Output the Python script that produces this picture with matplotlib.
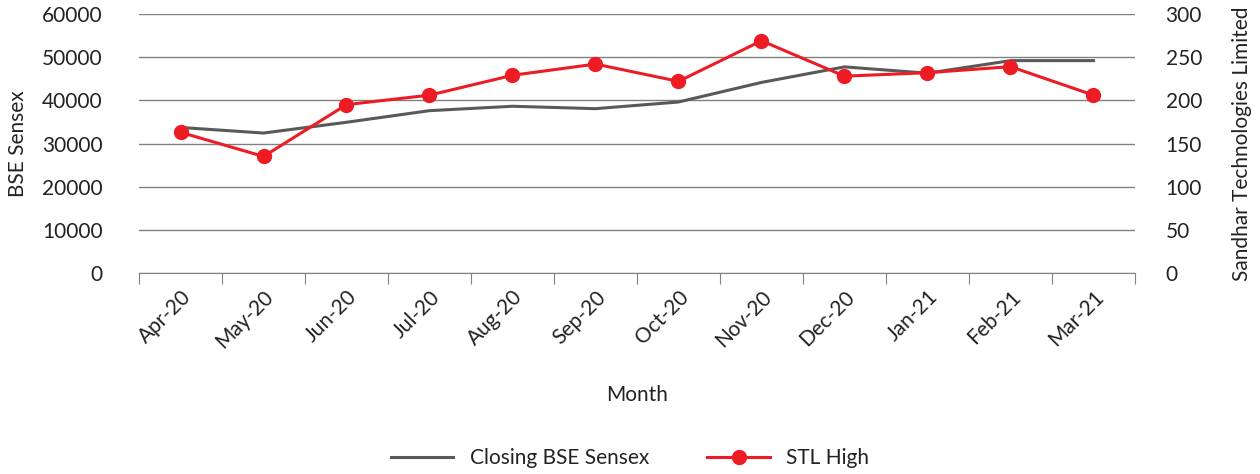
import matplotlib
matplotlib.use("Agg")
import matplotlib.pyplot as plt
import numpy as np

months = ["Apr-20", "May-20", "Jun-20", "Jul-20", "Aug-20", "Sep-20",
          "Oct-20", "Nov-20", "Dec-20", "Jan-21", "Feb-21", "Mar-21"]
sensex = [33717, 32424, 34916, 37607, 38628, 38068, 39614, 44150, 47751, 46286, 49200, 49200]
stl_high = [163, 135, 195, 206, 229, 242, 222, 269, 228, 232, 239, 206]
left_ticks = [0, 10000, 20000, 30000, 40000, 50000, 60000]
right_ticks = [0, 50, 100, 150, 200, 250, 300]

plt.rcParams['font.family'] = ['Lato', 'DejaVu Sans']
text_color = "#222222"
grey = "#595959"
red = "#ED1C24"
fs = 15

fig = plt.figure(figsize=(12.6, 4.74), dpi=100)
ax = fig.add_axes([139/1260, 1-273/474, (1135-139)/1260, (273-14)/474])
ax2 = ax.twinx()

x = np.arange(len(months))
l1, = ax.plot(x, sensex, color=grey, lw=2.2, label="Closing BSE Sensex", zorder=3)
l2, = ax2.plot(x, stl_high, color=red, lw=2.2, marker='o', ms=10, label="STL High", zorder=4)

ax.set_xlim(-0.5, len(months) - 0.5)
ax.set_ylim(0, 60000)
ax2.set_ylim(0, 300)
ax.set_yticks(left_ticks)
ax2.set_yticks(right_ticks)
ax.grid(axis='y', color="#808080", lw=1.0)
ax.set_axisbelow(True)

for a in (ax, ax2):
    for s in ("top", "left", "right"):
        a.spines[s].set_visible(False)
ax.spines["bottom"].set_color("#808080")
ax2.spines["bottom"].set_visible(False)

ax.set_xticks(np.arange(-0.5, len(months)), minor=False)
ax.set_xticklabels([])
ax.set_xticks(x, minor=True)
ax.set_xticklabels(months, minor=True, rotation=45, ha='right', va='top',
                   rotation_mode='anchor', fontsize=fs, color=text_color)
ax.tick_params(axis='x', which='major', length=8, color="#808080", direction='out')
ax.tick_params(axis='x', which='minor', length=0, pad=10)
ax.tick_params(axis='y', length=0, labelsize=fs, labelcolor=text_color, pad=26)
ax2.tick_params(axis='y', length=0, labelsize=fs, labelcolor=text_color, pad=22)

ax.set_ylabel("BSE Sensex", fontsize=fs, color=text_color, labelpad=10)
ax2.set_ylabel("Sandhar Technologies Limited", fontsize=fs, color=text_color, labelpad=22)
ax.set_xlabel("Month", fontsize=fs, color=text_color, labelpad=24)

fig.legend(handles=[l1, l2], loc='center', bbox_to_anchor=(0.5, 1-458/474), ncol=2,
           frameon=False, fontsize=fs, handlelength=3.0, columnspacing=2.8,
           labelcolor=text_color)

fig.savefig("out.png", dpi=100)
